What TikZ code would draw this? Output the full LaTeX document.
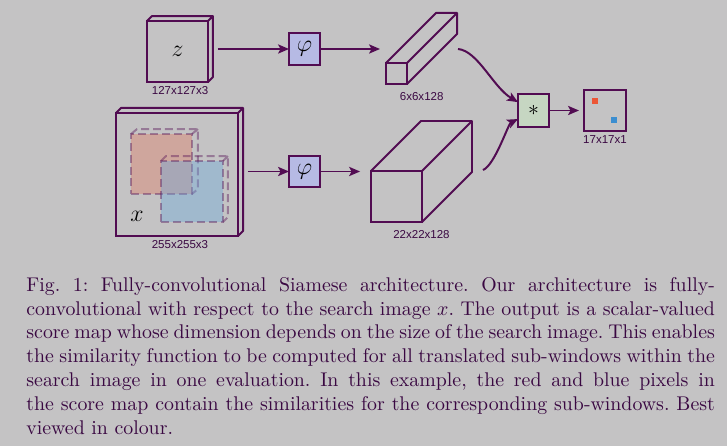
\documentclass[tikz,border=0pt]{standalone}
\usepackage{fontspec}
\newfontfamily\dimfont{Liberation Sans}
\usetikzlibrary{arrows.meta,positioning,calc}

\definecolor{paper}{RGB}{196,195,196}
\definecolor{ink}{RGB}{82,12,82}
\definecolor{capink}{RGB}{58,8,66}
\definecolor{embfill}{RGB}{182,186,228}
\definecolor{corrfill}{RGB}{198,214,194}
\definecolor{winred}{RGB}{226,120,96}
\definecolor{winblue}{RGB}{108,170,220}
\definecolor{pixred}{RGB}{236,86,54}
\definecolor{pixblue}{RGB}{60,142,208}

\tikzset{
  face/.style={draw=ink, line width=1pt, inner sep=0pt, outer sep=0pt},
  embed/.style={face, fill=embfill, minimum width=15.6pt, minimum height=16pt,
    font=\fontsize{12}{14}\selectfont},
  corr/.style={face, fill=corrfill, minimum width=15.6pt, minimum height=16.6pt,
    font=\fontsize{11}{13}\selectfont},
  dims/.style={inner sep=0pt, text=capink, font=\dimfont\fontsize{5.8}{7}\selectfont},
  flow/.style={draw=ink, line width=1pt, -{Stealth[length=5.5pt,width=4.6pt,inset=1.2pt]}},
  subwin/.style={draw=ink, draw opacity=0.4, line width=1pt, dash pattern=on 4pt off 2pt,
    inner sep=0pt, outer sep=0pt},
  pixel/.style={inner sep=0pt, outer sep=0pt, minimum size=3pt},
}
% back edges of a box, behind its front face node
\newcommand\backedges[4][]{%
  \draw[ink, line width=1pt, line join=round, #1]
    (#2.north west) -- ++(#3,#4) -- ($(#2.north east)+(#3,#4)$)
    -- ($(#2.south east)+(#3,#4)$) -- (#2.south east)
    (#2.north east) -- ++(#3,#4);
}

\begin{document}
\begin{tikzpicture}[x=0.504pt, y=-0.504pt]
\fill[paper] (0,0) rectangle (727,446);

% exemplar branch
\node[face, minimum size=30.7pt, font=\fontsize{12.5}{15}\selectfont] (zin) at (177.5,51.5) {$z$};
\backedges{zin}{5}{-5}
\node[dims, below=2.2pt of zin, xshift=1.3pt] (zdim) {127x127x3};
\node[embed] (phiz) at (304.5,49) {$\varphi$};
\node[face, minimum size=10.6pt] (fz) at (396.5,73.5) {};
\backedges{fz}{50}{-50}
\node[dims, below=3.9pt of fz, xshift=12.7pt] (fzdim) {6x6x128};

% search branch
\node[face, minimum width=61.5pt, minimum height=62pt] (xin) at (177,174.5) {};
\backedges{xin}{5}{-5}
\node[subwin, fill=winred, fill opacity=0.38, minimum width=30.7pt, minimum height=30.2pt] (rwin) at (161.5,164) {};
\backedges[subwin]{rwin}{6}{-5}
\node[subwin, fill=winblue, fill opacity=0.4, minimum width=31.2pt, minimum height=30.7pt] (bwin) at (192,191.5) {};
\backedges[subwin]{bwin}{5}{-5}
\node[font=\fontsize{12.5}{15}\selectfont, inner sep=0pt] (xlab) at ($(xin.south west)+(21,-20)$) {$x$};
\node[dims, below=2pt of xin, xshift=1.5pt] (xdim) {255x255x3};
\node[embed] (phix) at (304.5,171.5) {$\varphi$};
\node[face, minimum size=25.7pt] (fx) at (396.5,196.5) {};
\backedges{fx}{50}{-50}
\node[dims, below=3.9pt of fx, xshift=12.6pt] (fxdim) {22x22x128};

% cross-correlation and score map
\node[corr] (xcorr) at (533.5,110.5) {$\ast$};
\node[face, minimum width=21.2pt, minimum height=20.7pt] (score) at (605,110.5) {};
\node[pixel, fill=pixred] (pr) at ($(score.center)+(-10,-9.5)$) {};
\node[pixel, fill=pixblue] (pb) at ($(score.center)+(9,9.5)$) {};
\node[dims, below=2pt of score] (sdim) {17x17x1};

\coordinate (fzout) at ($(fz.north east)+(51,-14)$);
\coordinate (fxout) at ($(fx.north east)+(61,-1)$);

\draw[flow, shorten <=5pt] (zin.east |- phiz) -- (phiz);
\draw[flow, shorten >=3pt] (phiz) -- (phiz -| fz.west);
\draw[flow, shorten <=5pt] (xin.east |- phix) -- (phix);
\draw[flow, shorten >=5.5pt] (phix) -- (phix -| fx.west);
\draw[flow] (fzout) .. controls +(20,2) and +(-25,-15) .. ([yshift=4.2pt]xcorr.west);
\draw[flow] (fxout) .. controls +(12,-5) and +(-10,5) .. ([yshift=-4.3pt]xcorr.west);
\draw[flow, shorten >=2.5pt] (xcorr) -- (score);

\node[anchor=north west, inner sep=0pt, text width=347pt, align=justify, text=capink,
  font=\fontsize{10}{12}\selectfont] (caption) at (26,277) {\frenchspacing
  Fig.~1: Fully-convolutional Siamese architecture. Our architecture is fully-\linebreak
  convolutional with respect to the search image $x$. The output is a scalar-valued\linebreak
  score map whose dimension depends on the size of the search image. This enables\linebreak
  the similarity function to be computed for all translated sub-windows within the\linebreak
  search image in one evaluation. In this example, the red and blue pixels in\linebreak
  the score map contain the similarities for the corresponding sub-windows. Best\linebreak
  viewed in colour.};
\end{tikzpicture}
\end{document}
